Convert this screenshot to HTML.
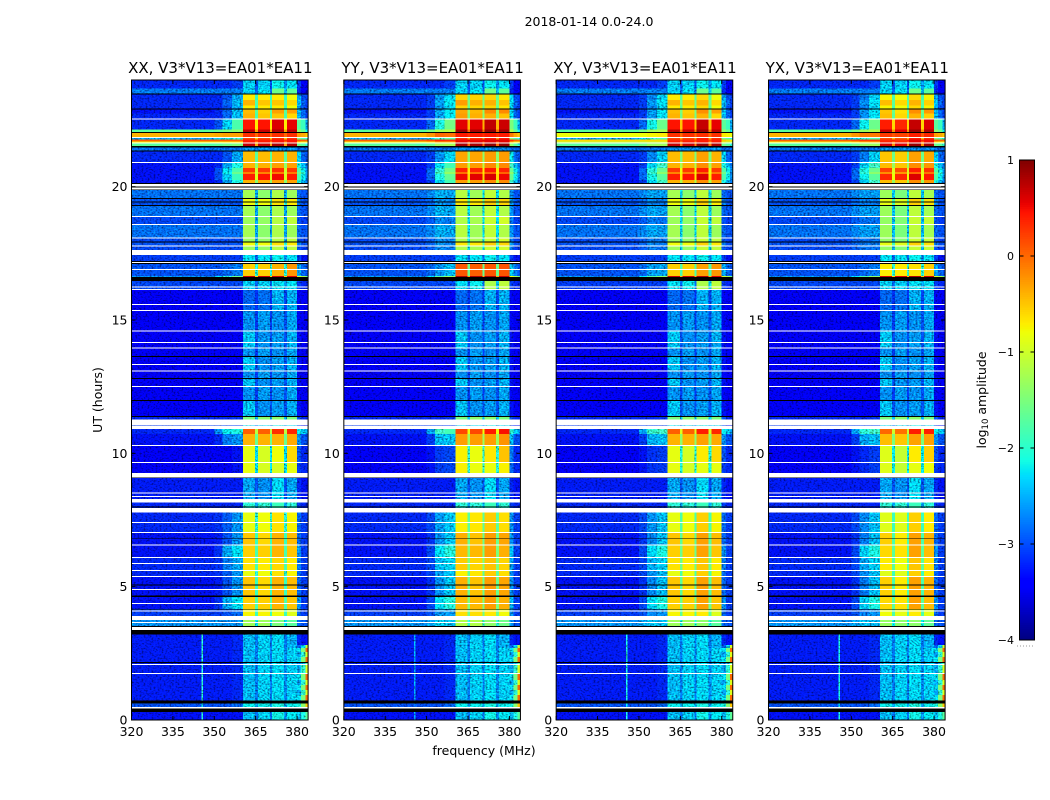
<!DOCTYPE html>
<html>
<head>
<meta charset="utf-8">
<title>2018-01-14 0.0-24.0</title>
<style>
html,body{margin:0;padding:0;background:#fff;}
svg{display:block;}
text{font-family:"DejaVu Sans","Liberation Sans",sans-serif;fill:#000;}
</style>
</head>
<body>
<svg id="figure" xmlns="http://www.w3.org/2000/svg" width="1050" height="800" viewBox="0 0 1050 800">
<defs>
<filter id="speckle" x="0" y="0" width="1" height="1" color-interpolation-filters="sRGB">
<feTurbulence type="fractalNoise" baseFrequency="0.5 0.62" numOctaves="2" seed="3" result="raw"/>
<feColorMatrix in="raw" type="matrix" values="1.7 0 0 0 -0.35  1.7 0 0 0 -0.35  1.7 0 0 0 -0.35  0 0 0 0 1" result="grain"/>
<feComposite in="SourceGraphic" in2="grain" operator="arithmetic" k1="1" k2="0.5" k3="0" k4="0"/>
</filter>
</defs>
<rect x="0" y="0" width="1050" height="800" fill="#fff"/>
<text x="589" y="26" font-size="12.5" text-anchor="middle">2018-01-14 0.0-24.0</text>
<text x="102" y="400" font-size="12.5" text-anchor="middle" transform="rotate(-90 102 400)">UT (hours)</text>
<text x="484" y="755" font-size="12.5" text-anchor="middle">frequency (MHz)</text>
<text x="986" y="400" font-size="12.5" text-anchor="middle" transform="rotate(-90 986 400)">log<tspan font-size="8.5" dy="2">10</tspan><tspan dy="-2"> amplitude</tspan></text>
<g id="panels"></g>
<g id="colorbar"></g>
</svg>
<script>
// ---------- chart data ----------
const panelNames = ['XX', 'YY', 'XY', 'YX'];
const panelSuffix = ', V3*V13=EA01*EA11';
const xTickValues = [320, 335, 350, 365, 380];
const yTickValues = [0, 5, 10, 15, 20];
const colorbarTicks = [1, 0, -1, -2, -3, -4];
const colorbarTickLabels = ['1', '0', '\u22121', '\u22122', '\u22123', '\u22124'];
const freqEdges = [320, 345.35, 345.9, 350, 353, 356.5, 360.4, 364.8, 365.8, 370.2, 370.9, 375.2, 376.3, 380, 381.5, 383, 384];
const timeMin = 0;
const timeMax = 24;
const freqMin = 320;
const freqMax = 384;
const colorMin = -4;
const colorMax = 1;
const speckleBelow = -1.9;

// log10 amplitude by frequency column
const profiles = {
  topDark:  [-3.2,-3.2,-3.2,-3.2,-3.2,-3.1,-2.4,-3.0,-2.4,-3.0,-2.2,-2.7,-2.3,-3.1,-3.4,-3.4],
  topLight: [-2.8,-2.8,-2.8,-2.8,-2.8,-2.8,-2.4,-2.9,-2.3,-2.9,-1.6,-2.5,-1.7,-3.2,-3.4,-3.4],
  amberA:   [-3.2,-3.2,-3.2,-3.2,-3.0,-2.6,-0.7,-1.9,-0.7,-1.9,-0.7,-1.9,-0.8,-2.6,-3.0,-3.1],
  amberB:   [-3.2,-3.2,-3.2,-3.2,-2.9,-2.5,-0.4,-1.8,-0.5,-1.8,-0.5,-1.8,-0.6,-2.5,-2.9,-3.1],
  amberC:   [-3.3,-3.3,-3.3,-3.2,-2.9,-2.5,-0.45,-1.7,-0.55,-1.7,-0.3,-1.7,-0.3,-2.5,-2.9,-3.1],
  red:      [-3.2,-3.2,-3.2,-3.0,-2.4,-1.8,0.45,-0.7,0.45,-0.7,0.6,-0.7,0.55,-1.7,-1.9,-2.6],
  darkRed:  [-1.7,-1.7,-1.7,-1.6,-1.5,-1.4,0.75,-0.3,0.7,-0.3,0.8,-0.3,0.75,-1.4,-1.6,-2.2],
  orangeAll:[-0.4,-0.4,-0.4,-0.35,-0.3,-0.3,0.3,0.0,0.3,0.0,0.3,0.0,0.3,-0.3,-0.35,-0.5],
  blueGreen:[-2.6,-2.6,-2.6,-2.4,-2.2,-2.0,0.2,-0.5,0.2,-0.5,0.3,-0.5,0.3,-1.6,-1.8,-2.0],
  redAll:   [0.05,0.05,0.05,0.05,0.05,0.05,0.4,0.3,0.4,0.3,0.45,0.3,0.45,0.1,0.05,0.0],
  yellowAll:[-0.8,-0.8,-0.8,-0.8,-0.75,-0.7,0.45,-0.2,0.45,-0.2,0.45,-0.2,0.45,-0.7,-0.8,-0.8],
  greenDR:  [-1.7,-1.7,-1.75,-1.7,-1.6,-1.5,0.7,-0.3,0.7,-0.3,0.8,-0.3,0.8,-1.6,-1.7,-2.0],
  blueFlat: [-2.85,-2.85,-2.85,-2.85,-2.85,-2.85,-2.7,-2.8,-2.7,-2.8,-2.7,-2.8,-2.7,-2.9,-2.9,-2.9],
  amberD:   [-3.2,-3.2,-3.2,-3.2,-3.0,-2.6,-0.45,-1.7,-0.45,-1.7,-0.4,-1.7,-0.4,-2.4,-2.9,-3.0],
  amberE:   [-3.3,-3.3,-3.3,-3.2,-2.6,-2.1,-0.4,-1.4,-0.4,-1.4,-0.3,-1.4,-0.3,-2.1,-2.5,-2.8],
  red2:     [-3.3,-3.3,-3.3,-3.0,-2.3,-1.8,0.25,-1.0,0.25,-1.0,0.3,-1.0,0.25,-1.8,-2.2,-2.7],
  redLine:  [-3.3,-3.3,-3.3,-3.0,-2.2,-1.6,-0.15,-1.0,-0.15,-1.0,-0.1,-1.0,-0.1,-1.6,-2.0,-2.7],
  red3:     [-3.3,-3.3,-3.3,-3.0,-2.4,-1.9,0.4,-0.9,0.45,-0.9,0.5,-0.9,0.4,-1.8,-2.2,-2.7],
  noiseG:   [-2.85,-2.85,-2.85,-2.85,-2.85,-2.85,-1.25,-2.6,-1.4,-2.6,-1.2,-2.6,-1.3,-2.9,-3.0,-3.0],
  noiseY:   [-3.0,-3.0,-3.0,-3.0,-3.0,-3.0,-0.8,-2.0,-0.8,-2.0,-0.65,-2.0,-0.7,-2.8,-3.0,-3.0],
  noiseG2:  [-3.05,-3.05,-3.05,-3.05,-3.05,-3.05,-1.3,-2.6,-1.35,-2.6,-1.15,-2.6,-1.1,-3.0,-3.1,-3.1],
  blue2:    [-3.1,-3.1,-3.1,-3.1,-3.1,-3.1,-2.3,-2.9,-2.3,-2.9,-2.2,-2.7,-2.3,-3.1,-3.3,-3.3],
  amberF:   [-3.0,-3.0,-3.0,-3.0,-2.9,-2.8,-0.55,-2.0,-0.55,-2.0,-0.4,-2.0,-0.25,-2.6,-2.9,-3.0],
  hotLine:  [-2.7,-2.7,-2.7,-2.4,-2.0,-1.6,0.7,-0.6,0.7,-0.6,0.7,-0.6,0.6,-1.0,-1.2,-1.6],
  qTop:     [-3.05,-3.05,-3.05,-3.05,-3.05,-3.05,-2.4,-2.9,-2.4,-2.9,-2.3,-2.6,-2.3,-3.1,-3.2,-3.2],
  q1:       [-3.4,-3.4,-3.4,-3.4,-3.4,-3.4,-2.9,-3.15,-2.85,-3.15,-2.55,-3.05,-2.55,-3.35,-3.4,-3.4],
  q2:       [-3.4,-3.4,-3.4,-3.4,-3.4,-3.4,-2.7,-3.1,-2.65,-3.1,-2.7,-3.0,-2.6,-3.35,-3.4,-3.4],
  q3:       [-3.4,-3.4,-3.4,-3.4,-3.4,-3.4,-2.45,-3.0,-2.7,-3.0,-2.65,-3.0,-2.55,-3.3,-3.4,-3.4],
  q4:       [-3.2,-3.2,-3.2,-3.2,-3.2,-3.15,-1.5,-2.5,-1.4,-2.5,-1.4,-2.5,-1.5,-3.0,-3.2,-3.2],
  hotTop:   [-3.2,-3.2,-3.2,-2.7,-2.2,-2.1,0.05,-1.1,0.05,-1.1,0.3,-1.1,0.35,-2.2,-2.4,-2.6],
  orangeT:  [-3.3,-3.3,-3.3,-3.2,-2.8,-2.7,-0.4,-1.6,-0.4,-1.6,-0.4,-1.6,-0.35,-2.7,-3.0,-3.0],
  amberG:   [-3.4,-3.4,-3.4,-3.4,-3.4,-3.3,-0.85,-2.3,-0.95,-2.3,-0.8,-2.3,-0.6,-3.0,-3.2,-3.2],
  amberH:   [-3.4,-3.4,-3.4,-3.4,-3.4,-3.3,-0.85,-2.3,-0.95,-2.3,-0.95,-2.3,-0.85,-3.1,-3.2,-3.2],
  q5:       [-3.25,-3.25,-3.25,-3.25,-3.25,-3.25,-2.6,-3.0,-2.7,-3.0,-2.35,-3.0,-2.6,-3.2,-3.3,-3.3],
  q5b:      [-3.2,-3.2,-3.2,-3.2,-3.2,-3.2,-2.0,-2.6,-2.0,-2.6,-1.9,-2.6,-2.0,-3.1,-3.2,-3.2],
  amberI:   [-3.2,-3.2,-3.2,-3.15,-2.95,-2.7,-0.85,-2.0,-0.8,-2.0,-0.65,-2.0,-0.75,-2.9,-3.1,-3.1],
  amberJ:   [-3.3,-3.3,-3.3,-3.25,-3.0,-2.7,-0.5,-1.9,-0.6,-1.9,-0.4,-1.9,-0.45,-2.9,-3.1,-3.1],
  amberK:   [-3.3,-3.3,-3.3,-3.15,-2.6,-2.3,-0.55,-1.8,-0.55,-1.8,-0.4,-1.8,-0.5,-2.7,-3.1,-3.1],
  amberL:   [-3.2,-3.2,-3.2,-3.15,-2.8,-2.6,-0.65,-1.8,-0.7,-1.8,-0.6,-1.8,-0.7,-2.8,-3.1,-3.1],
  yel:      [-3.1,-3.1,-3.1,-3.1,-3.0,-2.9,-0.75,-1.9,-0.75,-1.9,-0.8,-1.9,-0.9,-2.9,-3.1,-3.1],
  blueCyan: [-2.7,-2.7,-2.7,-2.7,-2.7,-2.7,-1.3,-2.3,-1.3,-2.3,-1.5,-2.3,-1.7,-2.9,-3.0,-3.0],
  qLowA:    [-3.25,-2.0,-3.25,-3.25,-3.25,-3.2,-2.5,-2.8,-2.4,-2.8,-2.35,-2.8,-2.55,-3.2,-3.3,-3.3],
  qHookA:   [-3.25,-2.0,-3.25,-3.25,-3.25,-3.2,-2.5,-2.8,-2.4,-2.8,-2.35,-2.8,-2.55,-2.9,-2.4,-1.0],
  qHookB:   [-3.25,-2.0,-3.25,-3.25,-3.25,-3.2,-2.5,-2.8,-2.4,-2.8,-2.35,-2.75,-2.4,-2.3,-1.5,0.0],
  qHookC:   [-3.25,-2.0,-3.25,-3.25,-3.25,-3.2,-2.5,-2.8,-2.4,-2.8,-2.35,-2.7,-2.4,-2.6,-2.0,-0.9],
  qHookD:   [-3.25,-2.0,-3.25,-3.25,-3.25,-3.2,-2.5,-2.8,-2.4,-2.8,-2.35,-2.8,-2.5,-2.8,-2.5,-1.6],
  qFaint:   [-3.0,-2.2,-3.0,-3.0,-3.0,-2.9,-2.2,-2.6,-2.2,-2.6,-2.1,-2.6,-2.2,-2.1,-1.4,-0.5],
  qEnd:     [-3.3,-2.0,-3.3,-3.3,-3.3,-3.3,-2.5,-2.85,-2.4,-2.85,-2.15,-2.7,-2.25,-2.5,-2.1,-1.7]
};

// top edge (hours) and profile of each time row, listed from top down; W = flagged (blank), K = zero (black)
const timeRows = [
  [24.00,'topDark'],[23.68,'topLight'],[23.50,'K'],[23.45,'amberA'],[23.25,'amberB'],[23.05,'amberA'],[22.93,'K'],[22.89,'amberC'],[22.75,'amberB'],[22.56,'W'],
  [22.52,'red'],[22.14,'darkRed'],[22.05,'K'],[22.01,'orangeAll'],[21.86,'W'],[21.82,'blueGreen'],[21.77,'redAll'],[21.69,'yellowAll'],[21.65,'W'],[21.62,'greenDR'],[21.52,'K'],
  [21.47,'blueFlat'],[21.36,'K'],[21.32,'amberD'],[20.92,'W'],[20.88,'amberE'],[20.70,'red2'],[20.55,'redLine'],[20.47,'red3'],[20.25,'amberE'],[20.13,'K'],[20.10,'W'],[20.00,'K'],[19.97,'W'],[19.90,'K'],
  [19.87,'noiseG'],[19.57,'K'],[19.54,'noiseY'],[19.44,'K'],[19.41,'noiseY'],[19.31,'K'],[19.27,'noiseG'],[18.90,'W'],[18.86,'noiseG2'],[18.60,'W'],[18.56,'noiseG'],[18.10,'W'],[18.06,'noiseG2'],[17.94,'K'],[17.90,'noiseY'],[17.80,'W'],[17.76,'noiseG2'],[17.62,'W'],
  [17.44,'blue2'],[17.21,'K'],[17.17,'W'],[17.13,'K'],[17.10,'amberF'],[16.92,'W'],[16.88,'amberF'],[16.65,'hotLine'],[16.61,'K'],[16.46,'qTop'],[16.25,'W'],[16.22,'qTop'],[16.17,'W'],
  [16.13,'q1'],[15.60,'W'],[15.56,'q1'],[15.37,'W'],[15.34,'q2'],[14.61,'W'],[14.57,'q3'],[14.18,'W'],[14.14,'q3'],[13.96,'W'],[13.93,'q2'],[13.65,'K'],[13.61,'q3'],[13.35,'W'],[13.31,'q3'],[13.10,'W'],[13.06,'q2'],[12.82,'K'],[12.79,'q3'],[12.52,'W'],[12.49,'q2'],[12.00,'K'],[11.96,'q3'],[11.40,'K'],[11.36,'q4'],[11.26,'W'],[11.07,'blue2'],[11.04,'W'],
  [10.92,'hotTop'],[10.72,'orangeT'],[10.31,'W'],[10.28,'amberG'],[9.67,'W'],[9.64,'amberH'],[9.26,'W'],[9.10,'K'],[9.07,'q5'],[8.53,'W'],[8.49,'q5'],[8.40,'W'],[8.36,'q5'],[8.29,'W'],[8.15,'q5b'],[8.01,'K'],[7.97,'q5b'],[7.95,'W'],
  [7.79,'amberI'],[7.42,'W'],[7.39,'amberI'],[7.05,'W'],[7.01,'amberJ'],[6.81,'K'],[6.78,'amberJ'],[6.58,'W'],[6.54,'amberK'],[6.11,'W'],[6.07,'amberL'],[5.89,'W'],[5.85,'amberL'],[5.62,'W'],[5.59,'amberI'],[5.40,'W'],[5.36,'amberJ'],[5.08,'K'],[5.04,'amberJ'],[4.91,'W'],[4.87,'amberJ'],[4.66,'K'],[4.62,'amberK'],[4.39,'W'],[4.35,'amberK'],[4.17,'K'],[4.14,'yel'],[4.11,'W'],[4.07,'yel'],[3.90,'W'],[3.75,'blueCyan'],[3.67,'W'],[3.64,'blueCyan'],[3.52,'K'],[3.49,'W'],[3.37,'K'],
  [3.21,'qLowA'],[2.81,'qHookA'],[2.70,'qHookB'],[2.55,'qHookC'],[2.36,'qHookB'],[2.17,'K'],[2.13,'qHookD'],[2.10,'W'],[2.06,'qHookC'],[1.76,'W'],[1.72,'qHookB'],[1.50,'qHookC'],[1.31,'qHookB'],[1.12,'qHookC'],[0.94,'qHookB'],[0.73,'K'],[0.62,'qFaint'],[0.49,'W'],[0.44,'K'],[0.30,'qEnd']
];

// per-polarisation amplitude offset on the active (bright) rows, one per frequency column
const panelOffsets = {
  XX: [0,0,0,0,0,0,0,0,0,0,0,0,0,0,0,0],
  YY: [0,0,0,0.1,0.3,0.25,0.12,0.3,0.12,0.3,0.12,0.3,0.12,0.2,0,0],
  XY: [0,0,0,0.1,0.25,0.2,0,0.2,0,0.2,0.1,0.2,0,0,0,0],
  YX: [0,0,0,0.1,0.2,0.2,-0.05,0.1,-0.1,0.1,0.1,0.1,0.05,0,0,0]
};
// strength of the 345.6 MHz interference line relative to XX
const panelLineOffsets = {XX: 0, YY: -0.6, XY: -0.1, YX: -0.1};
// rows whose profile differs on a given polarisation
const panelOverrides = {
  XX: {},
  YY: {qTop: [-3.05,-3.05,-3.05,-3.05,-3.05,-3.05,-2.3,-2.9,-2.2,-2.9,-1.2,-2.4,-1.1,-3.1,-3.2,-3.2],
       amberF: [-3.0,-3.0,-3.0,-2.9,-2.7,-2.5,0.1,-1.6,0.05,-1.6,0.1,-1.6,0.1,-2.4,-2.8,-3.0]},
  XY: {qTop: [-3.1,-3.1,-3.1,-3.1,-3.1,-3.1,-2.3,-2.9,-2.2,-2.9,-1.2,-2.4,-1.1,-3.1,-3.2,-3.2],
       orangeAll: [-0.8,-0.8,-0.8,-0.8,-0.75,-0.7,0.3,0.0,0.3,0.0,0.3,0.0,0.3,-0.7,-0.75,-0.8],
       redAll: [-0.6,-0.6,-0.6,-0.6,-0.6,-0.6,0.35,0.2,0.35,0.2,0.4,0.2,0.4,-0.5,-0.6,-0.7],
       yellowAll: [-1.1,-1.1,-1.1,-1.1,-1.05,-1.0,0.45,-0.2,0.45,-0.2,0.45,-0.2,0.45,-1.0,-1.1,-1.1]},
  YX: {amberF: [-3.0,-3.0,-3.0,-3.0,-2.9,-2.8,-0.7,-2.0,-0.7,-2.0,-0.65,-2.0,-0.55,-2.6,-2.9,-3.0]}
};

// ---------- axes ----------
const SVGNS = 'http://www.w3.org/2000/svg';
const plotTop = 80;
const plotHeight = 640;
const plotWidth = 176.6;
const panelStep = 212.33;
const plotLeft0 = 131.5;
function yAxis(hour) {
  return plotTop + (timeMax - hour) / (timeMax - timeMin) * plotHeight;
}
function xAxis(freq, left) {
  return left + (freq - freqMin) / (freqMax - freqMin) * plotWidth;
}
function jetChannel(t, pts) {
  for (let i = 1; i < pts.length; i++) {
    if (t <= pts[i][0]) {
      const a = pts[i - 1];
      const b = pts[i];
      return a[1] + (b[1] - a[1]) * (t - a[0]) / (b[0] - a[0]);
    }
  }
  return pts[pts.length - 1][1];
}
function colorFor(value) {
  const t = Math.max(0, Math.min(1, (value - colorMin) / (colorMax - colorMin)));
  const r = jetChannel(t, [[0, 0], [0.35, 0], [0.66, 1], [0.89, 1], [1, 0.5]]);
  const g = jetChannel(t, [[0, 0], [0.125, 0], [0.375, 1], [0.64, 1], [0.91, 0], [1, 0]]);
  const b = jetChannel(t, [[0, 0.5], [0.11, 1], [0.34, 1], [0.65, 0], [1, 0]]);
  return 'rgb(' + Math.round(r * 255) + ',' + Math.round(g * 255) + ',' + Math.round(b * 255) + ')';
}
function make(tag, parent, props) {
  const el = document.createElementNS(SVGNS, tag);
  for (const k in props) el.setAttribute(k, props[k]);
  parent.appendChild(el);
  return el;
}

// ---------- panels ----------
const panelsRoot = document.getElementById('panels');
panelNames.forEach(function (panelName, p) {
  const left = plotLeft0 + p * panelStep;
  const group = make('g', panelsRoot, {});
  
  

  const title = make('text', group, {x: left + plotWidth / 2 + 0.5, y: 73, 'font-size': 15, 'text-anchor': 'middle'});
  
  
  title.textContent = panelName + panelSuffix;

  const heat = make('g', group, {'shape-rendering': 'crispEdges'});
  
  
  const noisy = make('g', heat, {filter: 'url(#speckle)'});
  
  
  const smooth = make('g', heat, {});
  
  

  timeRows.forEach(function (row, r) {
    const topHour = row[0];
    const bottomHour = r + 1 < timeRows.length ? timeRows[r + 1][0] : timeMin;
    const y0 = yAxis(topHour);
    const y1 = yAxis(bottomHour);
    const kind = row[1];
    if (kind === 'W' || kind === 'K') {
      if (kind === 'K') {
        const band = make('rect', smooth, {x: left, y: y0, width: plotWidth, height: y1 - y0, fill: '#000'});
        
        
      }
      return;
    }
    const override = panelOverrides[panelName][kind];
    const values = override || profiles[kind];
    const active = values[6] > -1.5;
    const offsets = panelOffsets[panelName];
    const hasLine = values[1] > values[0] + 0.5;
    for (let c = 0; c < freqEdges.length - 1; c++) {
      const xa = xAxis(freqEdges[c], left);
      const xb = xAxis(freqEdges[c + 1], left);
      let v = values[c] + (active && !override ? offsets[c] : 0);
      if (c === 1 && hasLine) v += panelLineOffsets[panelName];
      const cell = make('rect', v < speckleBelow ? noisy : smooth, {x: xa, y: y0, width: xb - xa, height: y1 - y0, fill: colorFor(v)});
      
      
    }
  });

  const frame = make('rect', group, {x: left, y: plotTop, width: plotWidth, height: plotHeight, fill: 'none', stroke: '#000', 'stroke-width': 1});
  
  

  xTickValues.forEach(function (f) {
    const x = xAxis(f, left);
    const t1 = make('line', group, {x1: x, x2: x, y1: plotTop + plotHeight, y2: plotTop + plotHeight - 4, stroke: '#000'});
    
    
    const t2 = make('line', group, {x1: x, x2: x, y1: plotTop, y2: plotTop + 4, stroke: '#000'});
    
    
    const lab = make('text', group, {x: x, y: plotTop + plotHeight + 16, 'font-size': 12.5, 'text-anchor': 'middle'});
    
    
    lab.textContent = String(f);
  });
  yTickValues.forEach(function (h) {
    const y = yAxis(h);
    const t1 = make('line', group, {x1: left, x2: left + 4, y1: y, y2: y, stroke: '#000'});
    
    
    const t2 = make('line', group, {x1: left + plotWidth, x2: left + plotWidth - 4, y1: y, y2: y, stroke: '#000'});
    
    
    const lab = make('text', group, {x: left - 4, y: y + 4.5, 'font-size': 12.5, 'text-anchor': 'end'});
    
    
    lab.textContent = String(h);
  });
});

// ---------- colorbar ----------
const cbRoot = document.getElementById('colorbar');
const cbLeft = 1019.5;
const cbWidth = 15;
const cbTop = 160;
const cbHeight = 480;
function cbAxis(value) {
  return cbTop + (colorMax - value) / (colorMax - colorMin) * cbHeight;
}
const cbSteps = 256;
for (let i = 0; i < cbSteps; i++) {
  const hi = colorMax - (colorMax - colorMin) * i / cbSteps;
  const lo = colorMax - (colorMax - colorMin) * (i + 1) / cbSteps;
  const seg = make('rect', cbRoot, {x: cbLeft, y: cbAxis(hi), width: cbWidth, height: cbAxis(lo) - cbAxis(hi) + 0.5, fill: colorFor((hi + lo) / 2), 'shape-rendering': 'crispEdges'});
  
  
}
const cbFrame = make('rect', cbRoot, {x: cbLeft, y: cbTop, width: cbWidth, height: cbHeight, fill: 'none', stroke: '#000'});


colorbarTicks.forEach(function (v, i) {
  const y = cbAxis(v);
  const t1 = make('line', cbRoot, {x1: cbLeft, x2: cbLeft + 4, y1: y, y2: y, stroke: '#000'});
  
  
  const t2 = make('line', cbRoot, {x1: cbLeft + cbWidth, x2: cbLeft + cbWidth - 4, y1: y, y2: y, stroke: '#000'});
  
  
  const lab = make('text', cbRoot, {x: 1014, y: y + 4, 'font-size': 11, 'text-anchor': 'end'});
  
  
  lab.textContent = colorbarTickLabels[i];
});
const cbDots = make('line', cbRoot, {x1: 1017, x2: 1035, y1: 646, y2: 646, stroke: '#999', 'stroke-width': 1, 'stroke-dasharray': '1 2'});


</script>
</body>
</html>
